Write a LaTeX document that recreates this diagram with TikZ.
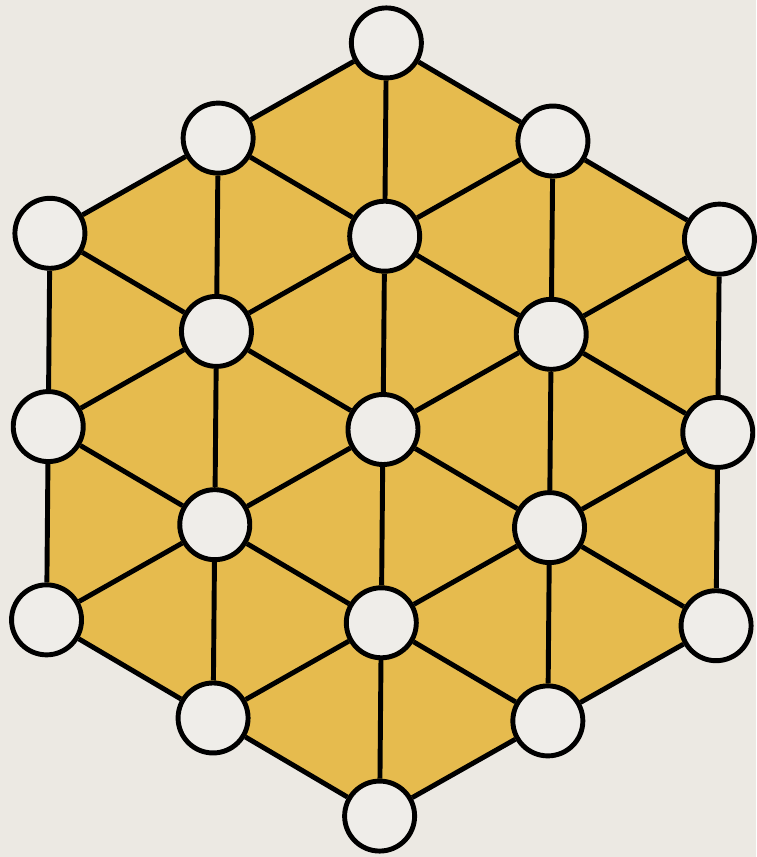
\documentclass[tikz,border=0pt]{standalone}
\usepackage{tikz}
\definecolor{paper}{HTML}{ECE9E3}
\definecolor{board}{HTML}{E6BB4E}
\definecolor{hole}{HTML}{EFEDE9}

\begin{document}
\begin{tikzpicture}[x=1.933cm,y=1.933cm,
  hole/.style={circle,draw,line width=1.4pt,fill=hole,minimum size=.7cm,inner sep=0pt},
  link/.style={line width=1.4pt}]
  \fill[paper] (-3.83cm,-4.275cm) rectangle (3.73cm,4.295cm);
  \begin{scope}[rotate=-.5]
  \fill[board] (90:2)--(30:2)--(-30:2)--(-90:2)--(-150:2)--(150:2)--cycle;
  % holes, i counts up, j counts up-right
  \foreach \i in {-2,...,2}
    \foreach \j in {-2,...,2} {
      \pgfmathtruncatemacro\ok{abs(\i+\j)<3}
      \ifnum\ok=1
        \node[hole] (h\i\j) at ({\j*.866},{\i+\j/2}) {};
      \fi
    }
  % links to the neighbours above, up-right and down-right
  \foreach \i in {-2,...,2}
    \foreach \j in {-2,...,2}
      \foreach \di/\dj in {1/0,0/1,-1/1} {
        \pgfmathtruncatemacro\a{\i+\di}
        \pgfmathtruncatemacro\b{\j+\dj}
        \pgfmathtruncatemacro\ok{and(abs(\i+\j)<3,max(abs(\a),abs(\b),abs(\a+\b))<3)}
        \ifnum\ok=1 \draw[link] (h\i\j) -- (h\a\b); \fi
      }
  \end{scope}
\end{tikzpicture}
\end{document}
